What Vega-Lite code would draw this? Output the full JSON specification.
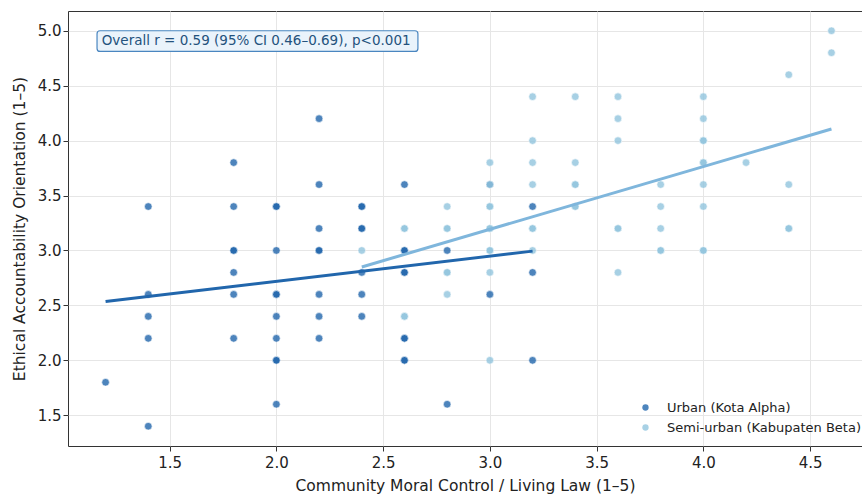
{
  "$schema": "https://vega.github.io/schema/vega-lite/v6.json",
  "autosize": "none",
  "width": 794,
  "height": 435,
  "padding": {"left": 68, "top": 11, "right": 0, "bottom": 51},
  "background": "white",
  "config": {
    "font": "DejaVu Sans",
    "view": {"stroke": "#333333", "strokeWidth": 1},
    "axis": {
      "domain": false,
      "grid": true,
      "gridColor": "#e6e6e6",
      "gridWidth": 1,
      "tickColor": "#333333",
      "tickSize": 5,
      "labelFont": "DejaVu Sans",
      "labelFontSize": 15,
      "labelColor": "#222222",
      "titleFont": "DejaVu Sans",
      "titleFontSize": 15.5,
      "titleFontWeight": "normal",
      "titleColor": "#222222"
    }
  },
  "datasets": {
    "pts": [
      {"cmc": 1.2, "eao": 1.8, "group": "Urban (Kota Alpha)"},
      {"cmc": 1.4, "eao": 3.4, "group": "Urban (Kota Alpha)"},
      {"cmc": 1.4, "eao": 2.6, "group": "Urban (Kota Alpha)"},
      {"cmc": 1.4, "eao": 2.4, "group": "Urban (Kota Alpha)"},
      {"cmc": 1.4, "eao": 2.2, "group": "Urban (Kota Alpha)"},
      {"cmc": 1.4, "eao": 1.4, "group": "Urban (Kota Alpha)"},
      {"cmc": 1.8, "eao": 3.8, "group": "Urban (Kota Alpha)"},
      {"cmc": 1.8, "eao": 3.4, "group": "Urban (Kota Alpha)"},
      {"cmc": 1.8, "eao": 3.0, "group": "Urban (Kota Alpha)"},
      {"cmc": 1.8, "eao": 3.0, "group": "Urban (Kota Alpha)"},
      {"cmc": 1.8, "eao": 2.8, "group": "Urban (Kota Alpha)"},
      {"cmc": 1.8, "eao": 2.6, "group": "Urban (Kota Alpha)"},
      {"cmc": 1.8, "eao": 2.2, "group": "Urban (Kota Alpha)"},
      {"cmc": 2.0, "eao": 3.4, "group": "Urban (Kota Alpha)"},
      {"cmc": 2.0, "eao": 3.4, "group": "Urban (Kota Alpha)"},
      {"cmc": 2.0, "eao": 3.0, "group": "Urban (Kota Alpha)"},
      {"cmc": 2.0, "eao": 2.6, "group": "Urban (Kota Alpha)"},
      {"cmc": 2.0, "eao": 2.6, "group": "Urban (Kota Alpha)"},
      {"cmc": 2.0, "eao": 2.4, "group": "Urban (Kota Alpha)"},
      {"cmc": 2.0, "eao": 2.2, "group": "Urban (Kota Alpha)"},
      {"cmc": 2.0, "eao": 2.0, "group": "Urban (Kota Alpha)"},
      {"cmc": 2.0, "eao": 2.0, "group": "Urban (Kota Alpha)"},
      {"cmc": 2.0, "eao": 1.6, "group": "Urban (Kota Alpha)"},
      {"cmc": 2.2, "eao": 4.2, "group": "Urban (Kota Alpha)"},
      {"cmc": 2.2, "eao": 3.6, "group": "Urban (Kota Alpha)"},
      {"cmc": 2.2, "eao": 3.2, "group": "Urban (Kota Alpha)"},
      {"cmc": 2.2, "eao": 3.0, "group": "Urban (Kota Alpha)"},
      {"cmc": 2.2, "eao": 3.0, "group": "Urban (Kota Alpha)"},
      {"cmc": 2.2, "eao": 2.6, "group": "Urban (Kota Alpha)"},
      {"cmc": 2.2, "eao": 2.4, "group": "Urban (Kota Alpha)"},
      {"cmc": 2.2, "eao": 2.2, "group": "Urban (Kota Alpha)"},
      {"cmc": 2.4, "eao": 3.4, "group": "Urban (Kota Alpha)"},
      {"cmc": 2.4, "eao": 3.4, "group": "Urban (Kota Alpha)"},
      {"cmc": 2.4, "eao": 3.2, "group": "Urban (Kota Alpha)"},
      {"cmc": 2.4, "eao": 3.2, "group": "Urban (Kota Alpha)"},
      {"cmc": 2.4, "eao": 2.8, "group": "Urban (Kota Alpha)"},
      {"cmc": 2.4, "eao": 2.6, "group": "Urban (Kota Alpha)"},
      {"cmc": 2.4, "eao": 2.4, "group": "Urban (Kota Alpha)"},
      {"cmc": 2.6, "eao": 3.6, "group": "Urban (Kota Alpha)"},
      {"cmc": 2.6, "eao": 3.0, "group": "Urban (Kota Alpha)"},
      {"cmc": 2.6, "eao": 3.0, "group": "Urban (Kota Alpha)"},
      {"cmc": 2.6, "eao": 2.8, "group": "Urban (Kota Alpha)"},
      {"cmc": 2.6, "eao": 2.8, "group": "Urban (Kota Alpha)"},
      {"cmc": 2.6, "eao": 2.2, "group": "Urban (Kota Alpha)"},
      {"cmc": 2.6, "eao": 2.2, "group": "Urban (Kota Alpha)"},
      {"cmc": 2.6, "eao": 2.0, "group": "Urban (Kota Alpha)"},
      {"cmc": 2.6, "eao": 2.0, "group": "Urban (Kota Alpha)"},
      {"cmc": 2.8, "eao": 3.0, "group": "Urban (Kota Alpha)"},
      {"cmc": 2.8, "eao": 1.6, "group": "Urban (Kota Alpha)"},
      {"cmc": 3.0, "eao": 3.6, "group": "Urban (Kota Alpha)"},
      {"cmc": 3.0, "eao": 2.6, "group": "Urban (Kota Alpha)"},
      {"cmc": 3.2, "eao": 3.4, "group": "Urban (Kota Alpha)"},
      {"cmc": 3.2, "eao": 2.8, "group": "Urban (Kota Alpha)"},
      {"cmc": 3.2, "eao": 2.0, "group": "Urban (Kota Alpha)"},
      {"cmc": 2.4, "eao": 3.0, "group": "Semi-urban (Kabupaten Beta)"},
      {"cmc": 2.6, "eao": 3.2, "group": "Semi-urban (Kabupaten Beta)"},
      {"cmc": 2.6, "eao": 3.2, "group": "Semi-urban (Kabupaten Beta)"},
      {"cmc": 2.6, "eao": 2.4, "group": "Semi-urban (Kabupaten Beta)"},
      {"cmc": 2.6, "eao": 2.4, "group": "Semi-urban (Kabupaten Beta)"},
      {"cmc": 2.8, "eao": 3.4, "group": "Semi-urban (Kabupaten Beta)"},
      {"cmc": 2.8, "eao": 3.2, "group": "Semi-urban (Kabupaten Beta)"},
      {"cmc": 2.8, "eao": 3.2, "group": "Semi-urban (Kabupaten Beta)"},
      {"cmc": 2.8, "eao": 2.8, "group": "Semi-urban (Kabupaten Beta)"},
      {"cmc": 2.8, "eao": 2.8, "group": "Semi-urban (Kabupaten Beta)"},
      {"cmc": 2.8, "eao": 2.6, "group": "Semi-urban (Kabupaten Beta)"},
      {"cmc": 3.0, "eao": 3.8, "group": "Semi-urban (Kabupaten Beta)"},
      {"cmc": 3.0, "eao": 3.6, "group": "Semi-urban (Kabupaten Beta)"},
      {"cmc": 3.0, "eao": 3.4, "group": "Semi-urban (Kabupaten Beta)"},
      {"cmc": 3.0, "eao": 3.4, "group": "Semi-urban (Kabupaten Beta)"},
      {"cmc": 3.0, "eao": 3.2, "group": "Semi-urban (Kabupaten Beta)"},
      {"cmc": 3.0, "eao": 3.2, "group": "Semi-urban (Kabupaten Beta)"},
      {"cmc": 3.0, "eao": 3.0, "group": "Semi-urban (Kabupaten Beta)"},
      {"cmc": 3.0, "eao": 3.0, "group": "Semi-urban (Kabupaten Beta)"},
      {"cmc": 3.0, "eao": 2.8, "group": "Semi-urban (Kabupaten Beta)"},
      {"cmc": 3.0, "eao": 2.0, "group": "Semi-urban (Kabupaten Beta)"},
      {"cmc": 3.2, "eao": 4.4, "group": "Semi-urban (Kabupaten Beta)"},
      {"cmc": 3.2, "eao": 4.0, "group": "Semi-urban (Kabupaten Beta)"},
      {"cmc": 3.2, "eao": 3.8, "group": "Semi-urban (Kabupaten Beta)"},
      {"cmc": 3.2, "eao": 3.6, "group": "Semi-urban (Kabupaten Beta)"},
      {"cmc": 3.2, "eao": 3.2, "group": "Semi-urban (Kabupaten Beta)"},
      {"cmc": 3.2, "eao": 3.2, "group": "Semi-urban (Kabupaten Beta)"},
      {"cmc": 3.2, "eao": 3.0, "group": "Semi-urban (Kabupaten Beta)"},
      {"cmc": 3.4, "eao": 4.4, "group": "Semi-urban (Kabupaten Beta)"},
      {"cmc": 3.4, "eao": 3.8, "group": "Semi-urban (Kabupaten Beta)"},
      {"cmc": 3.4, "eao": 3.6, "group": "Semi-urban (Kabupaten Beta)"},
      {"cmc": 3.4, "eao": 3.6, "group": "Semi-urban (Kabupaten Beta)"},
      {"cmc": 3.4, "eao": 3.4, "group": "Semi-urban (Kabupaten Beta)"},
      {"cmc": 3.4, "eao": 3.4, "group": "Semi-urban (Kabupaten Beta)"},
      {"cmc": 3.6, "eao": 4.4, "group": "Semi-urban (Kabupaten Beta)"},
      {"cmc": 3.6, "eao": 4.2, "group": "Semi-urban (Kabupaten Beta)"},
      {"cmc": 3.6, "eao": 4.0, "group": "Semi-urban (Kabupaten Beta)"},
      {"cmc": 3.6, "eao": 3.2, "group": "Semi-urban (Kabupaten Beta)"},
      {"cmc": 3.6, "eao": 3.2, "group": "Semi-urban (Kabupaten Beta)"},
      {"cmc": 3.6, "eao": 2.8, "group": "Semi-urban (Kabupaten Beta)"},
      {"cmc": 3.8, "eao": 3.6, "group": "Semi-urban (Kabupaten Beta)"},
      {"cmc": 3.8, "eao": 3.4, "group": "Semi-urban (Kabupaten Beta)"},
      {"cmc": 3.8, "eao": 3.2, "group": "Semi-urban (Kabupaten Beta)"},
      {"cmc": 3.8, "eao": 3.0, "group": "Semi-urban (Kabupaten Beta)"},
      {"cmc": 3.8, "eao": 3.0, "group": "Semi-urban (Kabupaten Beta)"},
      {"cmc": 4.0, "eao": 4.4, "group": "Semi-urban (Kabupaten Beta)"},
      {"cmc": 4.0, "eao": 4.2, "group": "Semi-urban (Kabupaten Beta)"},
      {"cmc": 4.0, "eao": 4.0, "group": "Semi-urban (Kabupaten Beta)"},
      {"cmc": 4.0, "eao": 4.0, "group": "Semi-urban (Kabupaten Beta)"},
      {"cmc": 4.0, "eao": 3.8, "group": "Semi-urban (Kabupaten Beta)"},
      {"cmc": 4.0, "eao": 3.8, "group": "Semi-urban (Kabupaten Beta)"},
      {"cmc": 4.0, "eao": 3.6, "group": "Semi-urban (Kabupaten Beta)"},
      {"cmc": 4.0, "eao": 3.4, "group": "Semi-urban (Kabupaten Beta)"},
      {"cmc": 4.0, "eao": 3.0, "group": "Semi-urban (Kabupaten Beta)"},
      {"cmc": 4.0, "eao": 3.0, "group": "Semi-urban (Kabupaten Beta)"},
      {"cmc": 4.2, "eao": 3.8, "group": "Semi-urban (Kabupaten Beta)"},
      {"cmc": 4.4, "eao": 4.6, "group": "Semi-urban (Kabupaten Beta)"},
      {"cmc": 4.4, "eao": 3.6, "group": "Semi-urban (Kabupaten Beta)"},
      {"cmc": 4.4, "eao": 3.2, "group": "Semi-urban (Kabupaten Beta)"},
      {"cmc": 4.4, "eao": 3.2, "group": "Semi-urban (Kabupaten Beta)"},
      {"cmc": 4.6, "eao": 5.0, "group": "Semi-urban (Kabupaten Beta)"},
      {"cmc": 4.6, "eao": 4.8, "group": "Semi-urban (Kabupaten Beta)"}
    ],
    "fits": [
      {"cmc": 1.2, "eao": 2.535, "group": "Urban (Kota Alpha)"},
      {"cmc": 3.2, "eao": 2.994, "group": "Urban (Kota Alpha)"},
      {"cmc": 2.4, "eao": 2.85, "group": "Semi-urban (Kabupaten Beta)"},
      {"cmc": 4.6, "eao": 4.106, "group": "Semi-urban (Kabupaten Beta)"}
    ],
    "note": [
      {"label": "Overall r = 0.59 (95% CI 0.46–0.69), p<0.001"}
    ]
  },
  "layer": [
    {
      "data": {"name": "pts"},
      "mark": {"type": "circle", "size": 58, "opacity": 0.8, "stroke": "white", "strokeWidth": 0.6},
      "encoding": {
        "x": {
          "field": "cmc", "type": "quantitative",
          "scale": {"domain": [1.024, 4.743], "nice": false, "zero": false},
          "axis": {"values": [1.5, 2.0, 2.5, 3.0, 3.5, 4.0, 4.5], "format": ".1f", "labelPadding": 4, "titlePadding": 8},
          "title": "Community Moral Control / Living Law (1–5)"
        },
        "y": {
          "field": "eao", "type": "quantitative",
          "scale": {"domain": [1.22, 5.18], "nice": false, "zero": false},
          "axis": {"values": [1.5, 2.0, 2.5, 3.0, 3.5, 4.0, 4.5, 5.0], "format": ".1f", "labelPadding": 2, "titlePadding": 10},
          "title": "Ethical Accountability Orientation (1–5)"
        },
        "color": {
          "field": "group", "type": "nominal",
          "scale": {"domain": ["Urban (Kota Alpha)", "Semi-urban (Kabupaten Beta)"], "range": ["#2166ac", "#92c5de"]},
          "legend": {
            "title": null,
            "orient": "none",
            "legendX": 571,
            "legendY": 390,
            "padding": 0,
            "symbolType": "circle",
            "symbolSize": 40,
            "symbolOpacity": 0.8,
            "symbolStrokeWidth": 0,
            "labelFontSize": 13,
            "labelFont": "DejaVu Sans",
            "labelColor": "#222222",
            "labelLimit": 300,
            "labelOffset": 15,
            "rowPadding": 6
          }
        }
      }
    },
    {
      "data": {"name": "fits"},
      "mark": {"type": "line", "strokeWidth": 3},
      "encoding": {
        "x": {"field": "cmc", "type": "quantitative"},
        "y": {"field": "eao", "type": "quantitative"},
        "detail": {"field": "group"},
        "color": {
          "field": "group", "type": "nominal",
          "scale": {"domain": ["Urban (Kota Alpha)", "Semi-urban (Kabupaten Beta)"], "range": ["#2166ac", "#7fb6dc"]},
          "legend": null
        }
      }
    },
    {
      "data": {"name": "note"},
      "mark": {"type": "rect", "fill": "#eaf3fb", "stroke": "#4a86c0", "strokeWidth": 1.2, "cornerRadius": 3},
      "encoding": {
        "x": {"datum": 1.16, "type": "quantitative"},
        "x2": {"datum": 2.663},
        "y": {"datum": 5.0, "type": "quantitative"},
        "y2": {"datum": 4.812}
      }
    },
    {
      "data": {"name": "note"},
      "mark": {"type": "text", "align": "left", "baseline": "middle", "fontSize": 13.5, "font": "DejaVu Sans", "color": "#24527d"},
      "encoding": {
        "x": {"datum": 1.182, "type": "quantitative"},
        "y": {"datum": 4.905, "type": "quantitative"},
        "text": {"field": "label"}
      }
    }
  ],
  "resolve": {"scale": {"color": "independent"}}
}
